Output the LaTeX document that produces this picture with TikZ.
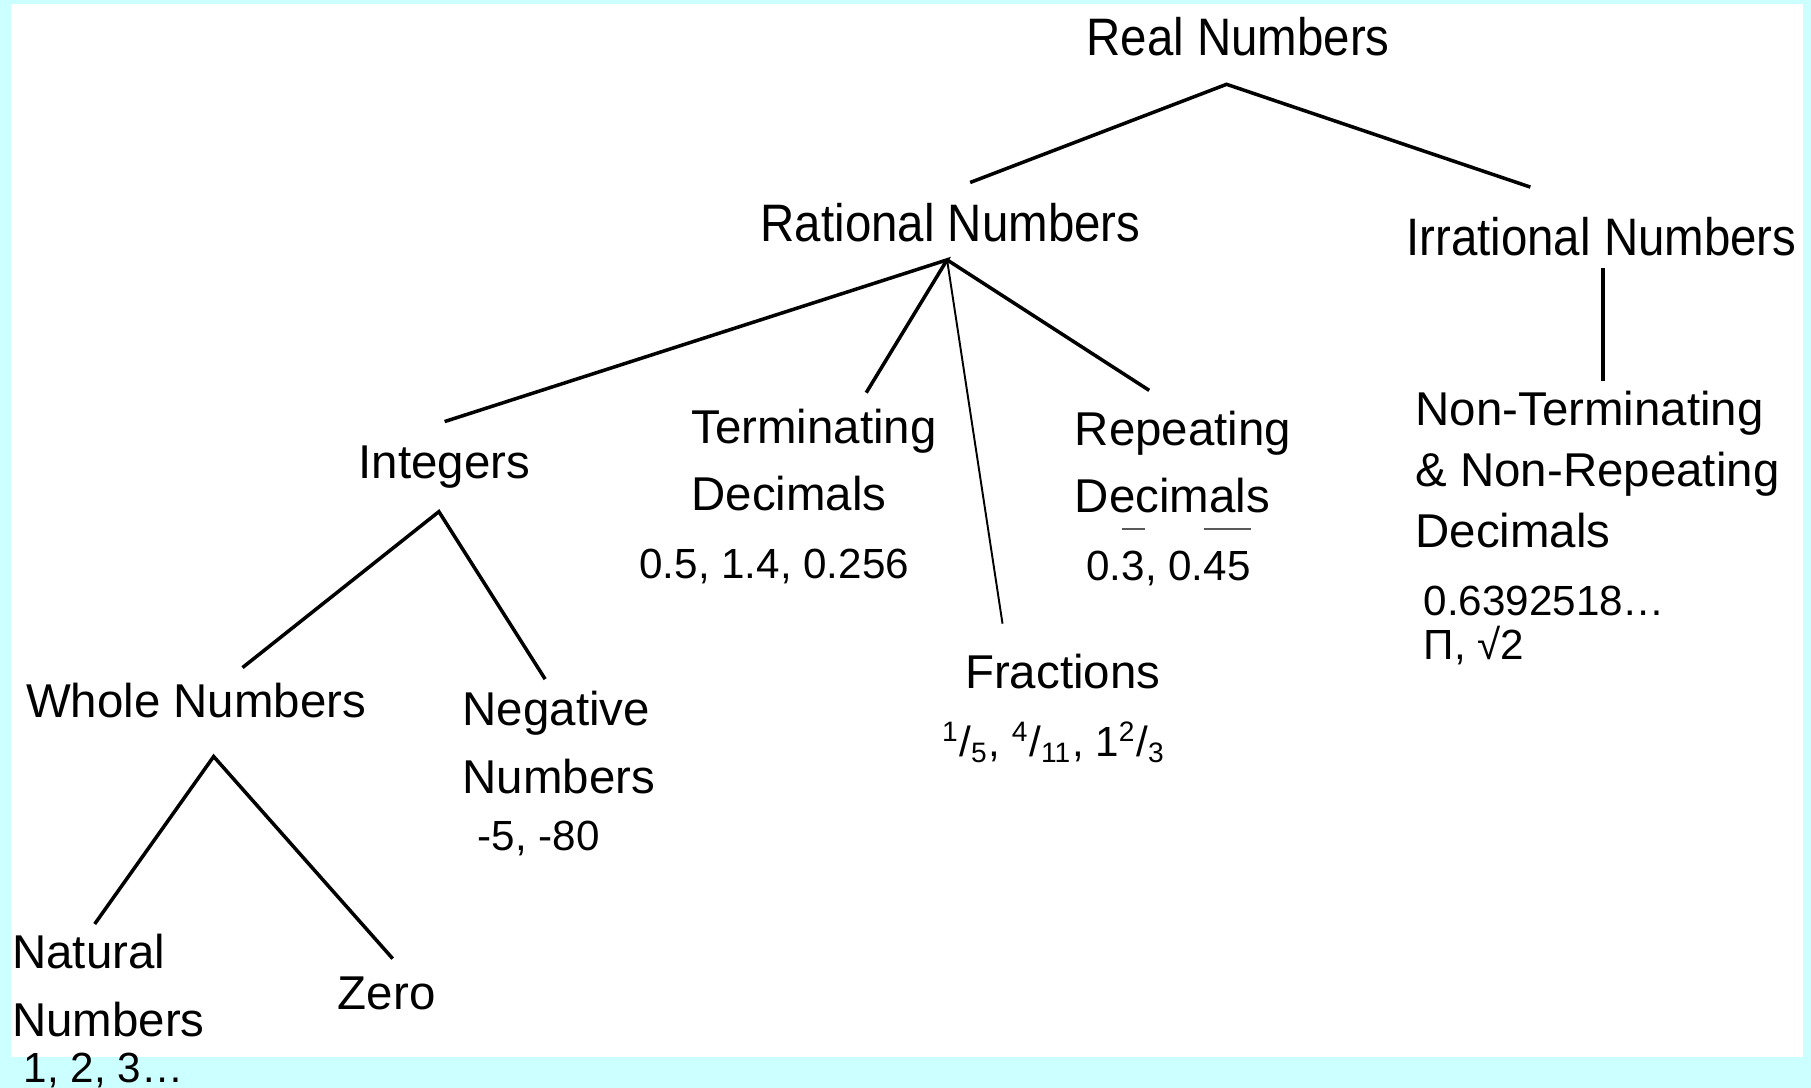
\documentclass[tikz,border=0pt]{standalone}
\usepackage{fontspec}
\setmainfont{Liberation Sans}
\newfontfamily\narrowsans[FakeStretch=0.9]{Liberation Sans}
\definecolor{framecyan}{HTML}{CCFFFF}
\newcommand{\frc}[2]{\textsuperscript{#1}/\textsubscript{#2}}
\newcommand{\rep}[1]{\sbox0{#1}\rlap{\color{black!65}\raisebox{1.2em}{\rule{\wd0}{0.6pt}}}\usebox0}
\begin{document}
\begin{tikzpicture}[x=0.1155mm, y=-0.1155mm,
    head/.style={font=\narrowsans\fontsize{15}{18}\selectfont, inner sep=0, anchor=base west},
    subset/.style={font=\fontsize{13.5}{19.2}\selectfont, inner sep=0, anchor=base west, align=left},
    sample/.style={font=\fontsize{12}{12.6}\selectfont, inner sep=0, anchor=base west, align=left},
    branch/.style={line width=1pt},
    thinbranch/.style={line width=0.55pt}]
    % Frame
    \fill[framecyan] (0,0) rectangle (1568,942);
    \fill[white] (9.5,3.5) rectangle (1561,915);
    \useasboundingbox (0,0) rectangle (1568,942);
    % Top level
    \node[head] (real) at (940,48) {Real Numbers};
    \node[head] (rational) at (658,209) {Rational Numbers};
    \node[head] (irrational) at (1217,221) {Irrational Numbers};
    % Rational subsets (base = last line)
    \node[subset] (integers) at (310,414) {Integers};
    \node[subset] (termdec) at (598,442) {Terminating\\Decimals};
    \node[subset] (repdec) at (930,444) {Repeating\\Decimals};
    \node[subset] (fractions) at (835,596) {Fractions};
    \node[subset, font=\fontsize{13.5}{17.3}\selectfont] (nonrep) at (1225,474) {Non-Terminating\\\& Non-Repeating\\Decimals};
    % Integer subsets
    \node[subset] (whole) at (22,621) {Whole Numbers};
    \node[subset] (negative) at (400,687) {Negative\\Numbers};
    \node[subset] (natural) at (10,897) {Natural\\Numbers};
    \node[subset] (zero) at (292,874) {Zero};
    % Examples
    \node[sample] (termval) at (553,501) {0.5, 1.4, 0.256};
    \node[sample] (repval) at (940,503) {0.\rep{3}, 0.\rep{45}};
    \node[sample] (irrval) at (1232,571) {0.6392518…\\Π, √2};
    \node[sample] (fracval) at (815,655) {\frc{1}{5}, \frc{4}{11}, 1\frc{2}{3}};
    \node[sample] (negval) at (413,736) {-5, -80};
    \node[sample] (natval) at (20,937) {1, 2, 3…};
    % Branch points
    \coordinate (real-hub) at (1062,73);
    \coordinate (rat-top) at (840,158);
    \coordinate (irr-top) at (1325,162);
    \coordinate (rat-hub) at (820,225);
    \coordinate (int-top) at (385,365);
    \coordinate (term-top) at (750,340);
    \coordinate (frac-top) at (868,540);
    \coordinate (rep-top) at (995,338);
    \coordinate (irr-hub) at (1388,232);
    \coordinate (nonrep-top) at (1388,330);
    \coordinate (int-hub) at (380,443);
    \coordinate (whole-top) at (210,578);
    \coordinate (neg-top) at (472,588);
    \coordinate (whole-hub) at (185,655);
    \coordinate (nat-top) at (82,800);
    \coordinate (zero-top) at (340,830);
    % Branches
    \draw[branch] (rat-top) -- (real-hub) -- (irr-top);
    \draw[branch] (int-top) -- (rat-hub) -- (term-top);
    \draw[branch] (rat-hub) -- (rep-top);
    \draw[thinbranch] (rat-hub) -- (frac-top);
    \draw[branch] (irr-hub) -- (nonrep-top);
    \draw[branch] (whole-top) -- (int-hub) -- (neg-top);
    \draw[branch] (nat-top) -- (whole-hub) -- (zero-top);
\end{tikzpicture}
\end{document}
